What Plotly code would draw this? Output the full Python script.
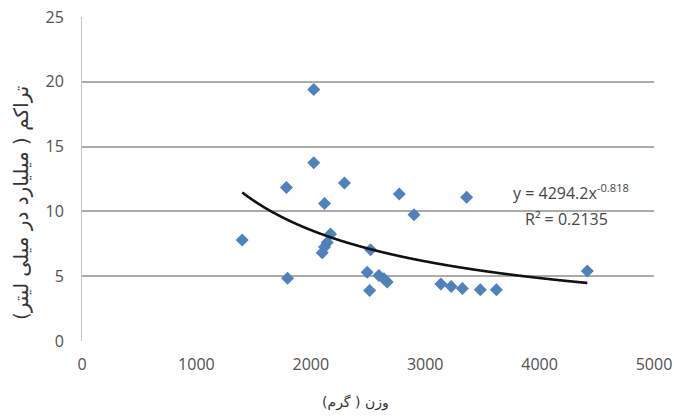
import numpy as np
import plotly.graph_objects as go

# data
weight_g = [1400, 1787, 1797, 2026, 2026, 2100, 2120, 2143, 2172, 2120, 2294,
            2493, 2514, 2522, 2595, 2639, 2668, 2773, 2902, 3137, 3228, 3325,
            3362, 3482, 3622, 4417]
density = [7.8, 11.85, 4.85, 19.4, 13.75, 6.8, 7.25, 7.6, 8.25, 10.6, 12.2,
           5.3, 3.9, 7.05, 5.05, 4.8, 4.55, 11.35, 9.75, 4.4, 4.2, 4.05,
           11.1, 3.95, 3.95, 5.4]

# power trendline coefficients as printed on the chart
trend_a = 4294.2
trend_b = -0.818
trend_r2 = 0.2135

x_ticks = [0, 1000, 2000, 3000, 4000, 5000]
y_ticks = [0, 5, 10, 15, 20, 25]

x_title = "وزن ( گرم)"
y_title = "تراکم ( میلیارد در میلی لیتر)"

tx = np.linspace(min(weight_g), max(weight_g), 400)
ty = trend_a * tx ** trend_b

font_fam = "Open Sans, Liberation Sans, sans-serif"
ar_fam = "DejaVu Sans, sans-serif"
txt_col = "#505050"

W, H = 674, 419
L, R, T, B = 82, 20, 17, 78
pw, ph = W - L - R, H - T - B

fig = go.Figure()
fig.add_trace(go.Scatter(
    x=weight_g, y=density, mode="markers",
    marker=dict(symbol="diamond", size=10, color="#4F81BD",
                line=dict(width=0)),
    showlegend=False, hoverinfo="x+y"))
fig.add_trace(go.Scatter(
    x=tx, y=ty, mode="lines",
    line=dict(color="#111111", width=2.6, shape="spline"),
    showlegend=False, hoverinfo="skip"))

fig.add_annotation(x=4274, y=11.5, xref="x", yref="y",
                   text=f"y = {trend_a}x<sup>{trend_b}</sup>", showarrow=False,
                   font=dict(family=font_fam, size=16, color="#454545"))
fig.add_annotation(x=4231, y=9.4, xref="x", yref="y",
                   text=f"R² = {trend_r2}", showarrow=False,
                   font=dict(family=font_fam, size=16, color="#454545"))

# axis titles
fig.add_annotation(x=(355 - L) / pw, y=-(402 - T - ph) / ph, xref="paper", yref="paper",
                   text=x_title, showarrow=False, xanchor="center", yanchor="middle",
                   font=dict(family=ar_fam, size=14, color="#333333"))
fig.add_annotation(x=-(L - 21) / pw, y=(H - 203 - B) / ph, xref="paper", yref="paper",
                   text=y_title, showarrow=False, textangle=-90,
                   xanchor="center", yanchor="middle",
                   font=dict(family=ar_fam, size=20, color="#333333"))

fig.update_layout(
    width=W, height=H,
    margin=dict(l=L, r=R, t=T, b=B),
    paper_bgcolor="white", plot_bgcolor="white",
    font=dict(family=font_fam, size=16, color=txt_col),
    xaxis=dict(range=[0, 5000], tickvals=x_ticks, showgrid=False,
               zeroline=False, showline=False, ticks="", automargin=False,
               ticklabelstandoff=12,
               tickfont=dict(size=16, color=txt_col)),
    yaxis=dict(range=[0, 25], tickvals=y_ticks, showgrid=True,
               gridcolor="#ABABAB", gridwidth=1.6,
               zeroline=False, showline=True, linecolor="#C4C4C4", linewidth=1,
               ticks="", automargin=False, ticklabelstandoff=14,
               tickfont=dict(size=16, color=txt_col)),
)

fig.write_html("out.html", config={"displayModeBar": False},
               post_script="document.body.style.margin='0';document.body.style.overflow='hidden';")
